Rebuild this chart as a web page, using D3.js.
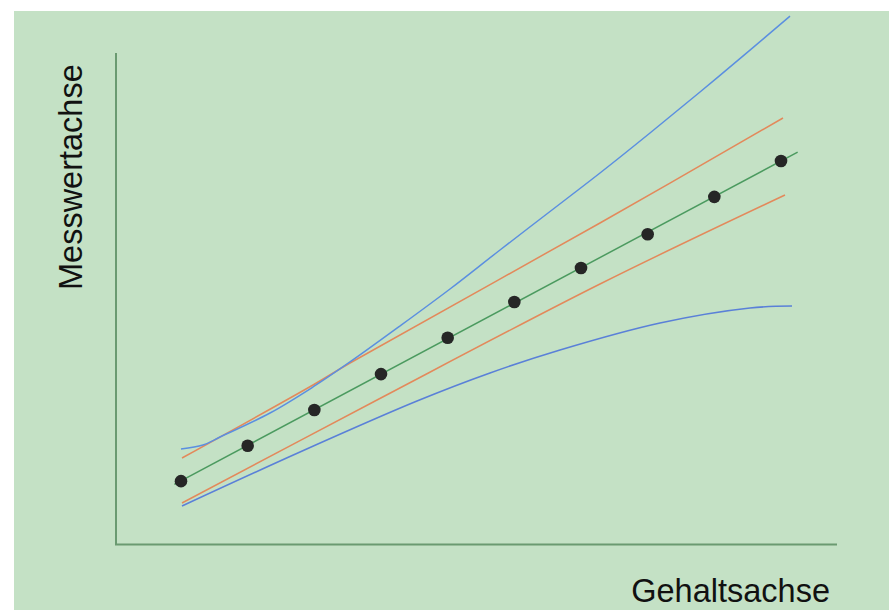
<!DOCTYPE html>
<html><head><meta charset="utf-8">
<script src="https://cdn.jsdelivr.net/npm/d3@7"></script>
<style>html,body{margin:0;padding:0;background:#fff;}svg{display:block;}</style>
</head><body>
<svg id="chart" width="889" height="610"></svg>
<script>
// Data (arbitrary units)
const pointX = [1,2,3,4,5,6,7,8,9,10];
const pointY = [1.28,2.00,2.73,3.46,4.20,4.93,5.62,6.31,7.07,7.80];
const fitX = [0.9, 10.25];
const fitY = [1.215, 7.98];
const orangeUpperX = [1.015,2.98,3.535,7.285,10.03];
const orangeUpperY = [1.752,3.238,3.686,6.538,8.676];
const orangeLowerX = [1.015,3.94,7.285,10.06];
const orangeLowerY = [0.835,2.933,5.295,7.108];
const blueUpperX = [1.0,1.33,1.585,2.335,2.98,3.535,4.285,5.035,5.785,6.76,7.285,8.035,8.785,9.535,10.135];
const blueUpperY = [1.935,2.016,2.179,2.668,3.198,3.707,4.44,5.193,5.988,7.006,7.556,8.371,9.206,10.06,10.75];
const blueLowerX = [1.015,2.785,4.54,5.635,6.685,8.185,9.535,10.165];
const blueLowerY = [0.774,1.874,2.912,3.483,3.951,4.501,4.807,4.847];
const xTitle = "Gehaltsachse";
const yTitle = "Messwertachse";

const svg = d3.select("#chart");
const x = d3.scaleLinear().domain([1,10]).range([181,781]);
const y = d3.scaleLinear().domain([0,10]).range([544,53]);

svg.append("rect").attr("x",14).attr("y",11).attr("width",875).attr("height",599).attr("fill","#c4e1c5");

// axes
const axisColor = "#6a9a71";
svg.append("path").attr("d", `M116,53 L116,544.5 L837,544.5`).attr("fill","none")
  .attr("stroke",axisColor).attr("stroke-width",2);

const line = d3.line().x(d=>x(d[0])).y(d=>y(d[1])).curve(d3.curveCatmullRom.alpha(0.5));
const zip = (a,b)=>a.map((v,i)=>[v,b[i]]);

function draw(xs, ys, color, w){
  svg.append("path").datum(zip(xs,ys)).attr("d", line).attr("fill","none")
    .attr("stroke", color).attr("stroke-width", w);
}
draw(blueLowerX, blueLowerY, "#5a80d8", 1.6);
draw(orangeLowerX, orangeLowerY, "#e3895b", 1.5);
draw(orangeUpperX, orangeUpperY, "#e3895b", 1.5);
draw(blueUpperX, blueUpperY, "#5b8fe0", 1.5);
draw(fitX, fitY, "#4b9a5f", 1.5);

svg.append("g").selectAll("circle").data(zip(pointX, pointY)).join("circle")
  .attr("cx", d=>x(d[0])).attr("cy", d=>y(d[1])).attr("r", 6.3).attr("fill","#262626");

svg.append("text").attr("x", 830).attr("y", 602).attr("text-anchor","end")
  .attr("font-family","Liberation Sans, Arial, sans-serif").attr("font-size",32.5)
  .attr("fill","#111").text(xTitle);
svg.append("text").attr("transform","translate(82,290) rotate(-90)").attr("text-anchor","start")
  .attr("font-family","Liberation Sans, Arial, sans-serif").attr("font-size",32.5)
  .attr("fill","#111").text(yTitle);
</script>
</body></html>
